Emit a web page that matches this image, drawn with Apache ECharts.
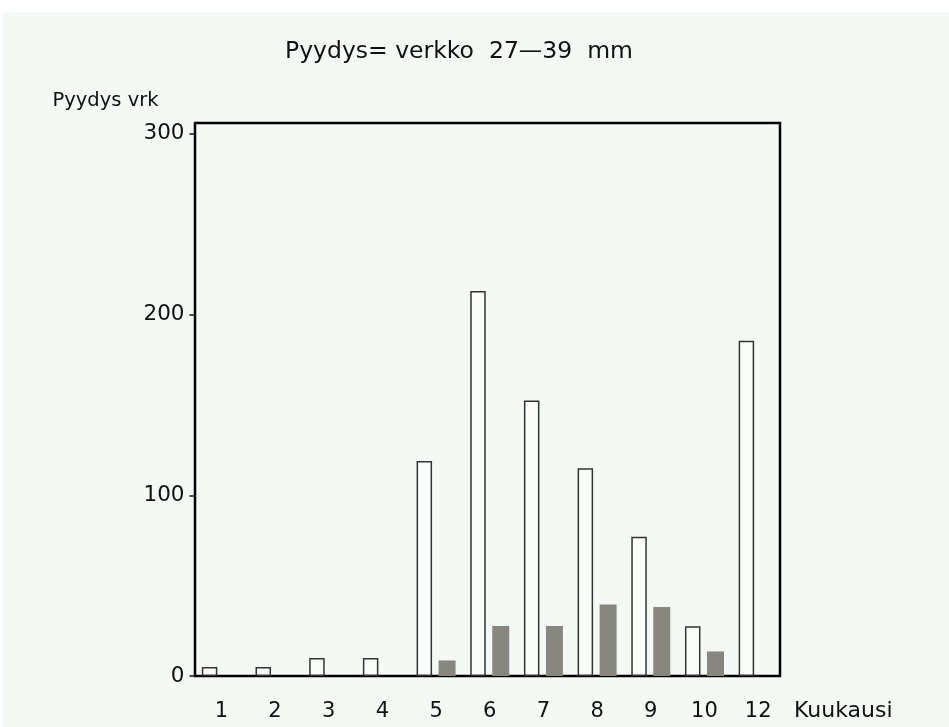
<!DOCTYPE html>
<html><head><meta charset="utf-8">
<script src="https://cdn.jsdelivr.net/npm/echarts@6/dist/echarts.min.js"></script>
<style>html,body{margin:0;padding:0;background:#fff}#c{width:949px;height:727px}</style>
</head><body><div id="c"></div>
<script>
const months = ['1','2','3','4','5','6','7','8','9','10','12'];
const effortDays = [5, 5, 10, 10, 119, 213, 152.5, 115, 77, 27.5, 185.5];
const catchValues = [0, 0, 0, 0, 8.6, 27.7, 27.7, 39.6, 38.2, 13.6, 0];
const yTicks = [0, 100, 200, 300];
const titleText = 'Pyydys= verkko  27\u201439  mm';
const yName = 'Pyydys vrk';
const xName = 'Kuukausi';

const FONT = 'DejaVu Sans';
const chart = echarts.init(document.getElementById('c'), null, {renderer: 'canvas'});
chart.setOption({
  animation: false,
  backgroundColor: '#ffffff',
  graphic: [{
    type: 'rect', left: 3, top: 12, z: -100,
    shape: {width: 946, height: 715},
    style: {fill: '#f5f9f6'}, silent: true
  }],
  title: {
    text: titleText, left: 280, top: 35,
    textStyle: {fontFamily: FONT, fontSize: 23.5, fontWeight: 'normal', color: '#111'}
  },
  grid: [
    {left: 194.5, right: 164, top: 123, bottom: 51, show: false},
    {left: 195, right: 169, top: 123, bottom: 51, show: true, borderColor: '#000', borderWidth: 2.5, backgroundColor: 'transparent'}
  ],
  xAxis: [
    {
      type: 'category', gridIndex: 0, data: months,
      axisLine: {show: false}, axisTick: {show: false},
      axisLabel: {fontFamily: FONT, fontSize: 21, color: '#111', margin: 25, interval: 0},
      name: xName, nameLocation: 'end', nameGap: 9,
      nameTextStyle: {fontFamily: FONT, fontSize: 22, color: '#111', align: 'left', verticalAlign: 'top', padding: [24, 0, 0, 0]}
    },
    {type: 'value', gridIndex: 1, show: false, min: 0, max: 1}
  ],
  yAxis: [
    {
      type: 'value', gridIndex: 0, min: 0, max: 306, interval: 100,
      splitLine: {show: false},
      axisLine: {show: false},
      axisTick: {show: true, inside: false, length: 5, customValues: yTicks, lineStyle: {color: '#111', width: 1.5}},
      axisLabel: {fontFamily: FONT, fontSize: 21.5, color: '#111', margin: 10, customValues: yTicks},
      name: yName, nameLocation: 'end', nameGap: 22,
      nameTextStyle: {fontFamily: FONT, fontSize: 19.5, color: '#111', align: 'right', verticalAlign: 'middle', padding: [0, 36, 0, 0]}
    },
    {type: 'value', gridIndex: 1, show: false, min: 0, max: 1}
  ],
  series: [
    {
      name: yName, type: 'bar', xAxisIndex: 0, yAxisIndex: 0,
      data: effortDays, barWidth: 15.5, barGap: '42%',
      itemStyle: {color: '#fbfdfb', borderColor: '#333', borderWidth: 1.5}
    },
    {
      name: 'Saalis', type: 'bar', xAxisIndex: 0, yAxisIndex: 0,
      data: catchValues, barWidth: 17,
      itemStyle: {color: '#88877f'}
    }
  ]
});
</script></body></html>
